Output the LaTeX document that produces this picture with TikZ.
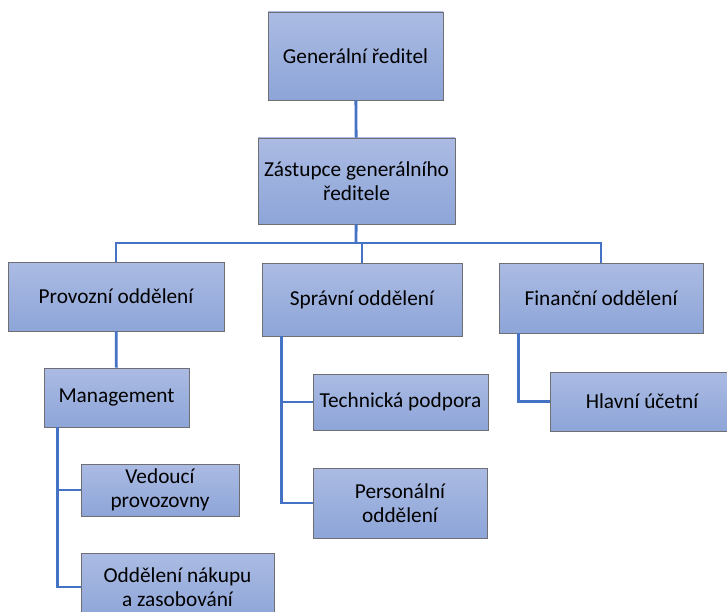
\documentclass[tikz,border=0pt]{standalone}
\usepackage{fontspec}
\setmainfont{Carlito}
\usepackage{xcolor}
\usepackage{tikz}
\definecolor{boxtop}{RGB}{171, 187, 227}
\definecolor{boxbottom}{RGB}{141, 165, 216}
\definecolor{boxline}{RGB}{110, 110, 115}
\definecolor{linkblue}{RGB}{68, 114, 196}
\usetikzlibrary{positioning}

\begin{document}
\begin{tikzpicture}[
        x=1pt, y=-1pt,
        every node/.style={font=\fontsize{21.3}{24}\selectfont},
        unit/.style={rectangle, draw=boxline, line width=0.9pt, top color=boxtop, bottom color=boxbottom, align=center, inner sep=0pt},
        link/.style={line width=2.8pt, color=linkblue}
    ]

        \useasboundingbox (0,0) rectangle (727,612);

        \node[unit, minimum width=175pt, minimum height=88pt] (ceo) at (355.5,56) {Generální ředitel};
        \node[unit, minimum width=197pt, minimum height=86pt] (deputy) at (356.5,181) {Zástupce generálního\\ředitele};

        \node[unit, minimum width=216pt, minimum height=69pt] (ops) at (116,296.5) {Provozní oddělení};
        \node[unit, minimum width=200pt, minimum height=73pt] (admin) at (362,299.5) {Správní oddělení};
        \node[unit, minimum width=204pt, minimum height=70pt] (fin) at (601,298) {Finanční oddělení};

        \node[unit, minimum width=145pt, minimum height=59pt] (mgmt) at (116.5,397.5) {Management};
        \node[unit, minimum width=158pt, minimum height=52pt] (lead) at (160,490) {Vedoucí\\provozovny};
        \node[unit, minimum width=193pt, minimum height=67pt] (supply) at (177.5,587) {Oddělení nákupu\\a zasobování};

        \node[unit, minimum width=175pt, minimum height=56pt] (tech) at (400.5,402) {Technická podpora};
        \node[unit, minimum width=174pt, minimum height=70pt] (staff) at (400,503) {Personální\\oddělení};

        \node[unit, minimum width=184pt, minimum height=59pt] (acct) at (642,401.5) {Hlavní účetní};

        \coordinate (bus) at (356,243);

        \draw[link] (ceo) -- (deputy);
        \draw[link] (deputy) -- (bus);
        \draw[link] (ops.north) |- (bus);
        \draw[link] (admin.north) |- (bus);
        \draw[link] (fin.north) |- (bus);
        \draw[link] (ops) -- (mgmt);
        \draw[link] ([xshift=14pt]mgmt.south west) |- (lead.west);
        \draw[link] ([xshift=14pt]mgmt.south west) |- (supply.west);
        \draw[link] ([xshift=20pt]admin.south west) |- (tech.west);
        \draw[link] ([xshift=20pt]admin.south west) |- (staff.west);
        \draw[link] ([xshift=20pt]fin.south west) |- (acct.west);

    \end{tikzpicture}
\end{document}
